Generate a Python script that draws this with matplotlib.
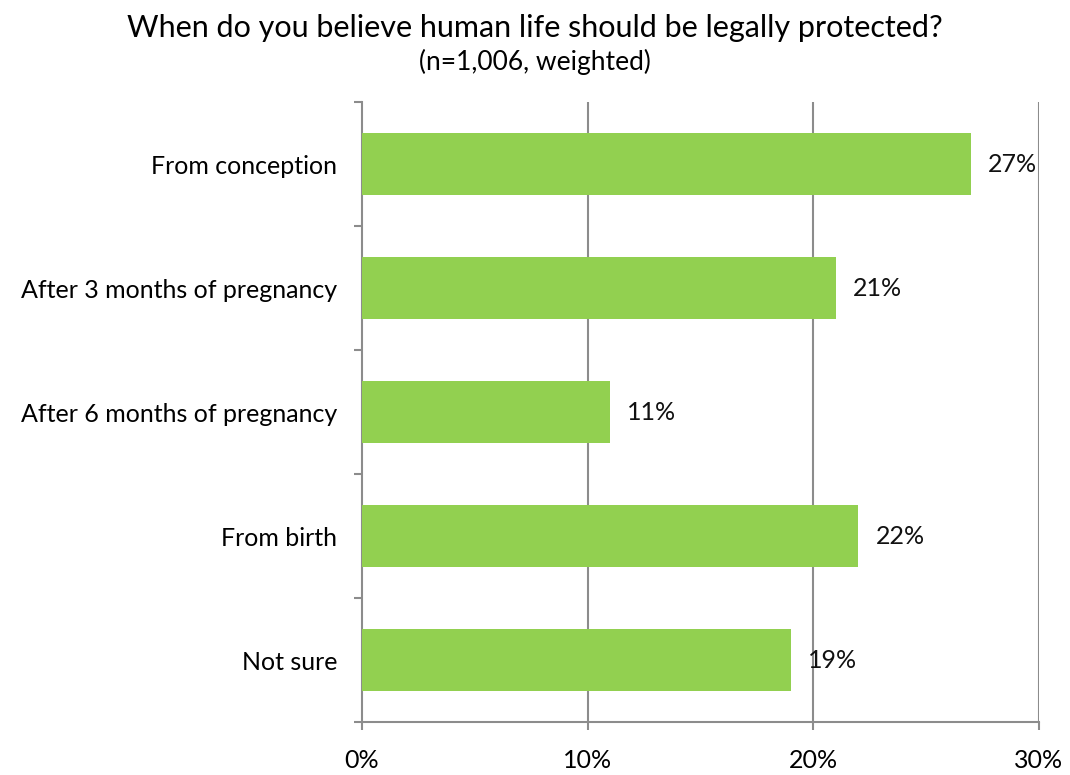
import matplotlib
matplotlib.use("Agg")
import matplotlib.pyplot as plt
from matplotlib.ticker import FixedLocator

categories = ["From conception", "After 3 months of pregnancy", "After 6 months of pregnancy", "From birth", "Not sure"]
values = [27, 21, 11, 22, 19]
xticks = [0, 10, 20, 30]
xtick_labels = ["0%", "10%", "20%", "30%"]

plt.rcParams['font.family'] = ['Lato', 'DejaVu Sans']
fig = plt.figure(figsize=(10.7, 7.75), dpi=100)
ax = fig.add_axes([362/1070, 1-722/775, (1039-362)/1070, 620/775])

ypos = list(range(len(categories)))
ax.barh(ypos, values, height=0.5, color="#92D050", zorder=3)
ax.set_ylim(len(categories) - 0.5, -0.5)
ax.set_xlim(0, 30)

gray = "#8C8C8C"
for x in xticks[1:]:
    ax.axvline(x, color=gray, lw=1.5, zorder=1)
for s in ["top", "right"]:
    ax.spines[s].set_visible(False)
for s in ["left", "bottom"]:
    ax.spines[s].set_color(gray)
    ax.spines[s].set_linewidth(1.5)

ax.set_xticks(xticks)
ax.set_xticklabels(xtick_labels, fontsize=18)
ax.tick_params(axis="x", length=5.8, color=gray, width=1.5, pad=14, direction="out")

ax.yaxis.set_major_locator(FixedLocator(ypos))
ax.set_yticklabels(categories, fontsize=18)
ax.tick_params(axis="y", which="major", length=0, pad=18)
ax.yaxis.set_minor_locator(FixedLocator([i - 0.5 for i in range(len(categories) + 1)]))
ax.tick_params(axis="y", which="minor", length=5.8, color=gray, width=1.5, direction="out")

for y, v in zip(ypos, values):
    ax.annotate(f"{v}%", (v, y), xytext=(17, 0), textcoords="offset pixels",
                va="center", ha="left", fontsize=18, color="#111111")

fig.text(0.5, 1-28/775, "When do you believe human life should be legally protected?",
         ha="center", va="center", fontsize=22, color="black")
fig.text(0.5, 1-62/775, "(n=1,006, weighted)", ha="center", va="center", fontsize=19, color="black")

fig.savefig("out.png", dpi=100)
